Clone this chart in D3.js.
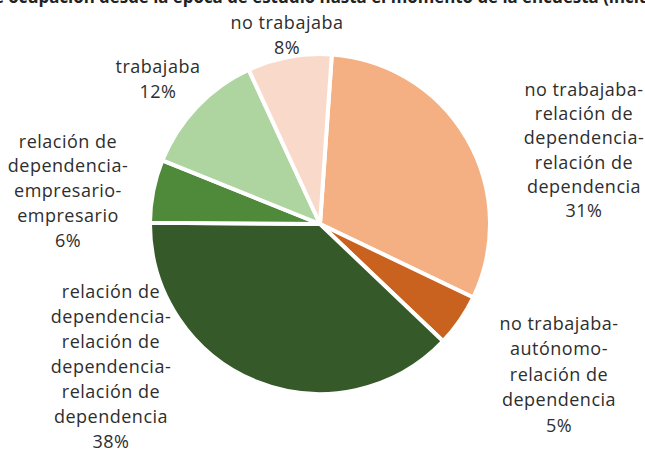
<!DOCTYPE html>
<html>
<head>
<meta charset="utf-8">
<script src="https://cdn.jsdelivr.net/npm/d3@7/dist/d3.min.js"></script>
<style>
  html, body { margin: 0; padding: 0; background: #ffffff; }
  svg { display: block; }
</style>
</head>
<body>
<svg id="chart" width="645" height="451"></svg>
<script>
// ---- data ----
const categories = [
  "no trabajaba-relación de dependencia-relación de dependencia",
  "no trabajaba-autónomo-relación de dependencia",
  "relación de dependencia-relación de dependencia-relación de dependencia",
  "relación de dependencia-empresario-empresario",
  "trabajaba",
  "no trabajaba"
];
const values = [31, 5, 38, 6, 12, 8];
const labelLines = [
  ["no trabajaba-", "relación de", "dependencia-", "relación de", "dependencia"],
  ["no trabajaba-", "autónomo-", "relación de", "dependencia"],
  ["relación de", "dependencia-", "relación de", "dependencia-", "relación de", "dependencia"],
  ["relación de", "dependencia-", "empresario-", "empresario"],
  ["trabajaba"],
  ["no trabajaba"]
];
const titleText = "e ocupación desde la época de estudio hasta el momento de la encuesta (inclu";

// ---- styles / layout ----
const colors = ["#F4AF82", "#C9621F", "#36592A", "#4F893A", "#AED5A0", "#F9DACA"];
const labelPos = [ // [center x, first line visual-center y, line spacing]
  [584, 90, 24.2],
  [559, 324, 25.4],
  [111, 292, 25],
  [68, 141.5, 24.8],
  [158, 66.7, 25],
  [287, 22.7, 25.6]
];
const cx = 320, cy = 224, R = 170;
const startDeg = 4;
const fontFamily = "'Open Sans', sans-serif";
const fontSize = 18;

const svg = d3.select("#chart");

// partial title (clipped at top as in reference)
svg.append("text")
  .attr("x", -6).attr("y", 3)
  .attr("textLength", 656).attr("lengthAdjust", "spacingAndGlyphs")
  .attr("font-family", fontFamily)
  .attr("font-weight", "bold")
  .attr("font-size", 18)
  .attr("fill", "#222")
  .text(titleText);

const pie = d3.pie().sort(null).value(d => d)
  .startAngle(startDeg * Math.PI / 180)
  .endAngle((startDeg + 360) * Math.PI / 180);
const arc = d3.arc().innerRadius(0).outerRadius(R);

const g = svg.append("g").attr("transform", `translate(${cx},${cy})`);
g.selectAll("path")
  .data(pie(values))
  .join("path")
  .attr("d", arc)
  .attr("fill", (d, i) => colors[i])
  .attr("stroke", "#ffffff")
  .attr("stroke-width", 4)
  .attr("stroke-linejoin", "round");

// labels
const fmt = v => `${v}%`;
values.forEach((v, i) => {
  const [x, y0, sp] = labelPos[i];
  const lines = labelLines[i].concat([fmt(v)]);
  const t = svg.append("text")
    .attr("font-family", fontFamily)
    .attr("font-size", fontSize)
    .attr("letter-spacing", 0.5)
    .attr("fill", "#2e2e2e")
    .attr("text-anchor", "middle");
  lines.forEach((ln, k) => {
    t.append("tspan")
      .attr("x", x)
      .attr("y", y0 + k * sp + 6)
      .text(ln);
  });
});
</script>
</body>
</html>
